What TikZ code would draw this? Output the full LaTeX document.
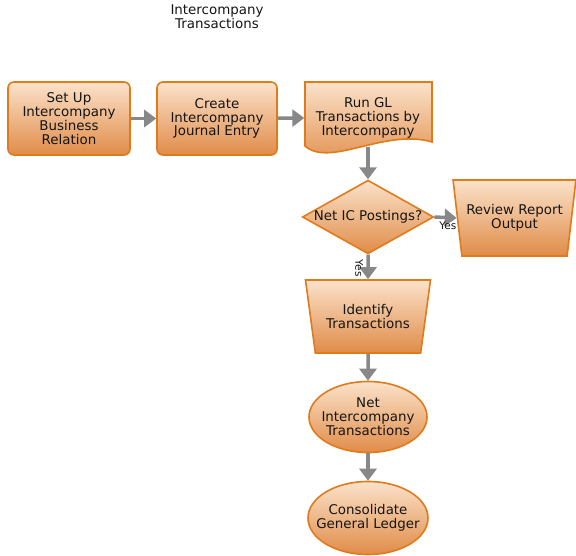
\documentclass[tikz,border=0pt]{standalone}
\usepackage{fontspec}
\setmainfont{DejaVu Sans}
\usetikzlibrary{shapes.geometric,arrows.meta,calc}
\definecolor{fillTop}{HTML}{FBE2CA}
\definecolor{fillBot}{HTML}{E08C48}
\definecolor{edgeOr}{HTML}{E07B1C}
\definecolor{arrowGr}{HTML}{888888}
\definecolor{txt}{HTML}{151515}
\tikzset{
  every node/.style={text=txt, font=\fontsize{13.4}{13.8}\selectfont, align=center, inner sep=0pt},
  flowfill/.style={draw=edgeOr, line width=1.6pt, top color=fillTop, bottom color=fillBot},
  procbox/.style={flowfill, shape=rectangle, rounded corners=6pt},
  decis/.style={flowfill, shape=diamond, aspect=1.78},
  manop/.style={flowfill, shape=trapezium, shape border rotate=180, trapezium stretches=true},
  term/.style={flowfill, shape=ellipse},
  conn/.style={draw=arrowGr, line width=3.5pt, -{Triangle[length=12pt,width=17pt]}},
  smalllab/.style={font=\fontsize{10.5}{11}\selectfont}
}
\begin{document}
\begin{tikzpicture}[x=1pt,y=-1pt]
\useasboundingbox (0,0) rectangle (576,556);
\node (title) at (217,17) {Intercompany\\Transactions};
\node[procbox, minimum width=122pt, minimum height=73pt] (b1) at (69,118.5) {Set Up\\Intercompany\\Business\\Relation};
\node[procbox, minimum width=120pt, minimum height=73pt] (b2) at (217,118.5) {Create\\Intercompany\\Journal Entry};
\path[flowfill] (305,82) -- (432,82) -- (432,142) .. controls (385,128) and (330,168) .. (305,146) -- cycle;
\node[minimum width=127pt, minimum height=58pt] (doc) at (368,118) {Run GL\\Transactions by\\Intercompany};
\node[decis, minimum width=130pt, minimum height=73pt] (dia) at (368,217) {Net IC Postings?};
\node[manop, minimum width=123pt, minimum height=76pt, trapezium angle=73.2] (rev) at (514.5,218) {Review Report\\Output};
\node[manop, minimum width=126pt, minimum height=73pt, trapezium angle=72.1] (idt) at (368,316.5) {Identify\\Transactions};
\node[term, minimum width=118pt, minimum height=71pt, label=center:{Net\\Intercompany\\Transactions}] (ell1) at (368,417) {};
\node[term, minimum width=120pt, minimum height=73pt, label=center:{Consolidate\\General Ledger}] (ell2) at (368,518) {};
\draw[conn] (b1) -- (b2);
\draw[conn] (b2) -- (doc.west);
\draw[conn] (doc.south) -- (dia.north);
\draw[conn] (dia.east) -- (rev.west) node[pos=0.6, below=2.5pt, smalllab] {Yes};
\draw[conn] (dia.south) -- (idt.north);
\node[smalllab, rotate=-90] (yes2) at ($(dia.south)!0.55!(idt.north)+(-9,0)$) {Yes};
\draw[conn] (idt.south) -- (ell1.north);
\draw[conn] (ell1.south) -- (ell2.north);
\end{tikzpicture}
\end{document}
